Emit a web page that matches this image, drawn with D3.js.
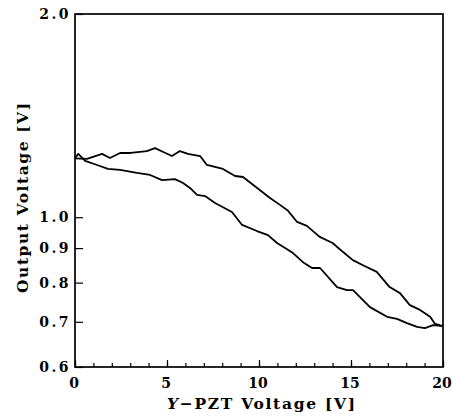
<!DOCTYPE html>
<html><head><meta charset="utf-8">
<script src="https://cdn.jsdelivr.net/npm/d3@7"></script>
<style>
html,body{margin:0;padding:0;background:#fff;}
svg{display:block;}
</style>
</head><body>
<svg id="chart" width="452" height="416"></svg>
<script>
// Data
const voltageA = [0, 0.65, 1.47, 1.9, 2.45, 3.0, 3.4, 3.9, 4.35, 4.8, 5.27, 5.7, 6.14, 6.8, 7.17, 8.04, 8.7, 9.13, 9.9, 10.6, 11.14, 11.58, 12.07, 12.6, 13.3, 14.0, 14.57, 15.1, 15.65, 16.4, 17.1, 17.66, 18.2, 18.75, 19.3, 19.57, 20];
const outputA  = [1.222, 1.22, 1.241, 1.224, 1.245, 1.245, 1.249, 1.253, 1.266, 1.249, 1.232, 1.253, 1.241, 1.232, 1.195, 1.179, 1.151, 1.147, 1.105, 1.068, 1.043, 1.022, 0.984, 0.971, 0.935, 0.916, 0.888, 0.864, 0.849, 0.83, 0.788, 0.772, 0.741, 0.729, 0.712, 0.695, 0.69];
const voltageB = [0, 0.18, 0.55, 1.2, 1.79, 2.45, 3.37, 4.08, 4.73, 5.43, 5.87, 6.25, 6.63, 7.07, 7.61, 8.53, 9.08, 9.89, 10.49, 10.98, 11.85, 12.39, 12.88, 13.32, 14.24, 14.78, 15.11, 16.03, 16.96, 17.5, 18.04, 18.59, 19.02, 19.46, 20];
const outputB  = [1.224, 1.241, 1.212, 1.195, 1.179, 1.175, 1.163, 1.155, 1.135, 1.139, 1.124, 1.105, 1.079, 1.075, 1.05, 1.018, 0.974, 0.954, 0.941, 0.916, 0.885, 0.858, 0.841, 0.841, 0.788, 0.78, 0.78, 0.736, 0.712, 0.707, 0.697, 0.688, 0.685, 0.692, 0.69];
const yTickValues = [0.6, 0.7, 0.8, 0.9, 1.0, 2.0];
const xMajorTicks = [0, 5, 10, 15, 20];
const xMinorTicks = d3.range(0, 21, 1);
const xTitleItalic = "Y";
const xTitleRest = "\u2212PZT Voltage [V]";
const yTitle = "Output Voltage [V]";

const W = 452, H = 416;
const m = {left: 75, right: 9, top: 14, bottom: 49};
const svg = d3.select("#chart");
const x = d3.scaleLinear().domain([0, 20]).range([m.left, W - m.right]);
const y = d3.scaleLog().domain([0.6, 2.0]).range([H - m.bottom, m.top]);
const tickFont = "'DejaVu Serif', 'Liberation Serif', serif";
const titleFont = "'DejaVu Serif', 'Liberation Serif', serif";

// Frame
svg.append("rect")
  .attr("x", m.left).attr("y", m.top)
  .attr("width", W - m.left - m.right).attr("height", H - m.top - m.bottom)
  .attr("fill", "none").attr("stroke", "#000").attr("stroke-width", 1.7);

// X minor ticks (inward)
const xMinor = svg.append("g").attr("transform", `translate(0,${H - m.bottom})`)
  .call(d3.axisBottom(x).tickValues(xMinorTicks).tickSize(-4).tickFormat(""));
xMinor.select(".domain").remove();
xMinor.selectAll("line").attr("stroke", "#000").attr("stroke-width", 1.2);

// X major ticks with labels
const xMajor = svg.append("g").attr("transform", `translate(0,${H - m.bottom})`)
  .call(d3.axisBottom(x).tickValues(xMajorTicks).tickSize(-7).tickPadding(11).tickFormat(d3.format("d")));
xMajor.select(".domain").remove();
xMajor.selectAll("line").attr("stroke", "#000").attr("stroke-width", 1.2);
xMajor.selectAll("text")
  .attr("font-family", tickFont).attr("font-weight", "bold").attr("font-size", 14)
  .attr("fill", "#000").attr("dx", -1.5);

// Y ticks with labels
const yAx = svg.append("g").attr("transform", `translate(${m.left},0)`)
  .call(d3.axisLeft(y).tickValues(yTickValues).tickSize(-8).tickPadding(4).tickFormat(d3.format(".1f")));
yAx.select(".domain").remove();
yAx.selectAll("line").attr("stroke", "#000").attr("stroke-width", 1.2);
yAx.selectAll("text")
  .attr("font-family", tickFont).attr("font-weight", "bold").attr("font-size", 14)
  .attr("letter-spacing", 2.5)
  .attr("fill", "#000");

// Curves
const line = d3.line().x(d => x(d[0])).y(d => y(d[1])).curve(d3.curveLinear);
const seriesA = voltageA.map((v, i) => [v, outputA[i]]);
const seriesB = voltageB.map((v, i) => [v, outputB[i]]);
[seriesA, seriesB].forEach(s => {
  svg.append("path").datum(s).attr("d", line)
    .attr("fill", "none").attr("stroke", "#000").attr("stroke-width", 1.8)
    .attr("stroke-linejoin", "round");
});

// Axis titles
const xt = svg.append("text")
  .attr("x", 167).attr("y", 409)
  .attr("textLength", 188).attr("lengthAdjust", "spacing")
  .attr("font-family", titleFont).attr("font-weight", "bold").attr("font-size", 15.5).attr("fill", "#000");
xt.append("tspan").attr("font-style", "italic").text(xTitleItalic);
xt.append("tspan").text(xTitleRest);

svg.append("text")
  .attr("transform", `translate(28,293) rotate(-90)`)
  .attr("textLength", 190).attr("lengthAdjust", "spacing")
  .attr("font-family", titleFont).attr("font-weight", "bold").attr("font-size", 15.5).attr("fill", "#000")
  .text(yTitle);
</script>
</body></html>
